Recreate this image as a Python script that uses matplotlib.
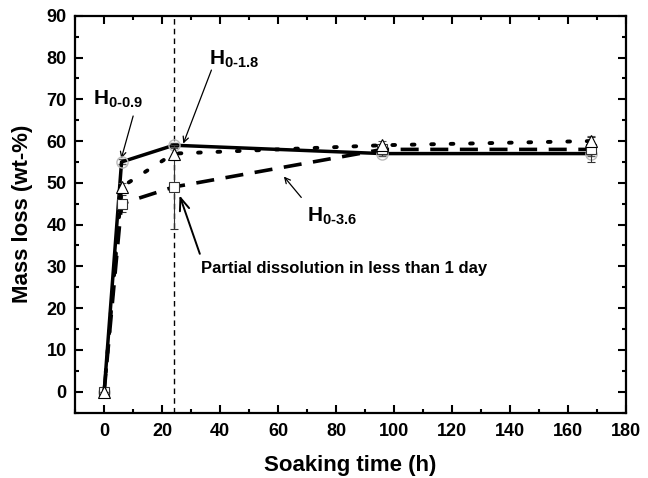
import matplotlib
matplotlib.use("Agg")
import matplotlib.pyplot as plt
from matplotlib.ticker import MultipleLocator

plt.rcParams["font.family"] = ["Liberation Sans", "DejaVu Sans"]
plt.rcParams["font.weight"] = "bold"
plt.rcParams["mathtext.fontset"] = "custom"
plt.rcParams["mathtext.rm"] = "Liberation Sans:bold"
plt.rcParams["mathtext.it"] = "Liberation Sans:bold"
plt.rcParams["mathtext.bf"] = "Liberation Sans:bold"

# Soaking time (h) and mass loss (wt-%) per sample
time_h = [0, 6, 24, 96, 168]
h09 = [0, 55, 59, 57, 57]
h18 = [0, 49, 57, 59, 60]
h36 = [0, 45, 49, 58, 58]
h09_err = [0, 0.6, 0.6, 0.6, 0.6]
h18_err = [0, 1.0, 1.5, 1.0, 1.2]
h36_err = [0, 2.0, 10.0, 1.0, 3.0]

fig = plt.figure(figsize=(6.48, 4.78), dpi=100)
ax = fig.add_axes([0.116, 0.137, 0.85, 0.830])

ax.axvline(24, color="black", linewidth=1.0, linestyle=(0, (4, 3)), zorder=1)

ax.errorbar(time_h, h09, yerr=h09_err, color="black", linewidth=2.5,
            marker="o", markersize=8, markerfacecolor="none",
            markeredgecolor="#bbbbbb", ecolor="#555555", elinewidth=0.8,
            capsize=3, zorder=3)
ax.errorbar(time_h, h36, yerr=h36_err, color="black", linewidth=2.6,
            linestyle=(0, (5, 3.2)), marker="s", markersize=7,
            markerfacecolor="white", markeredgecolor="#333333",
            markeredgewidth=0.8, ecolor="#333333", elinewidth=0.8,
            capsize=3, zorder=4)
ax.errorbar(time_h, h18, yerr=h18_err, color="black", linewidth=2.8,
            linestyle=(0, (0.7, 4.3)), dash_capstyle="round",
            marker="^", markersize=8, markerfacecolor="white",
            markeredgecolor="black", markeredgewidth=0.8,
            ecolor="#555555", elinewidth=0.8, capsize=3, zorder=5)

ax.set_xlim(-10, 180)
ax.set_ylim(-5, 90)
ax.xaxis.set_major_locator(MultipleLocator(20))
ax.xaxis.set_minor_locator(MultipleLocator(10))
ax.yaxis.set_major_locator(MultipleLocator(10))
ax.yaxis.set_minor_locator(MultipleLocator(5))
ax.tick_params(which="both", direction="in", top=True, right=True,
               labelsize=13, width=1.5)
ax.tick_params(which="major", length=6)
ax.tick_params(which="minor", length=3)
ax.tick_params(axis="x", pad=7.5)
ax.tick_params(axis="y", pad=6)
for sp in ax.spines.values():
    sp.set_linewidth(1.6)

ax.set_xlabel("Soaking time (h)", fontsize=16, fontweight="bold", labelpad=11)
ax.set_ylabel("Mass loss (wt-%)", fontsize=16, fontweight="bold", labelpad=10)

arrow = dict(arrowstyle="->", color="black", lw=0.9, shrinkA=0, shrinkB=0)
ax.text(-4, 70, r"H$_{\text{0-0.9}}$", fontsize=15, ha="left", va="center")
ax.annotate("", xy=(5.9, 55.8), xytext=(10, 66), arrowprops=arrow)
ax.text(36, 79.5, r"H$_{\text{0-1.8}}$", fontsize=15, ha="left", va="center")
ax.annotate("", xy=(27.3, 59.4), xytext=(37, 77), arrowprops=arrow)
ax.text(70, 42, r"H$_{\text{0-3.6}}$", fontsize=15, ha="left", va="center")
ax.annotate("", xy=(62, 51.5), xytext=(68, 46.5), arrowprops=arrow)
ax.text(33.5, 29.4, "Partial dissolution in less than 1 day", fontsize=12,
        ha="left", va="center", fontweight="bold")
ax.annotate("", xy=(26, 47), xytext=(33, 33),
            arrowprops=dict(arrowstyle="->,head_length=0.9,head_width=0.35",
                            color="black", lw=1.4, shrinkA=0, shrinkB=0))

fig.savefig("out.png", dpi=100)
